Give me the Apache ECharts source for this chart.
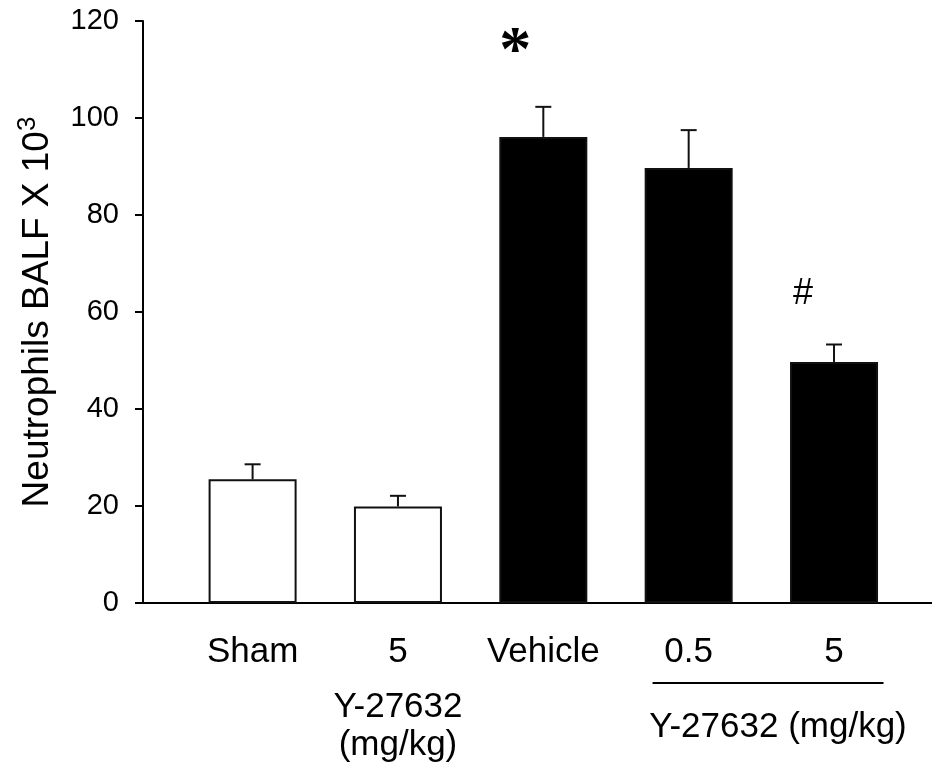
<!DOCTYPE html>
<html>
<head>
<meta charset="utf-8">
<script src="https://cdn.jsdelivr.net/npm/echarts@6/dist/echarts.min.js"></script>
<style>
  html, body { margin: 0; padding: 0; background: #fff; }
  #chart { width: 932px; height: 774px; }
</style>
</head>
<body>
<div id="chart"></div>
<script>
// Neutrophil counts in BALF (x10^3), mean with upper error bar
const categories = ['Sham', '5', 'Vehicle', '0.5', '5'];
const subLabels = ['', 'Y-27632\n(mg/kg)', '', '', ''];
const means = [25.5, 19.9, 96.1, 89.7, 49.7];
const errors = [3.1, 2.2, 6.2, 7.8, 3.6];

// significance marks: category index, symbol, height in data units
const markIndex = [2, 4];
const markText = ['*', '#'];
const markLevel = [115.8, 63.6];

// bracketed group under the last two bars
const groupLabel = 'Y-27632 (mg/kg)';
const groupSpan = [3, 4];

const yTicks = { min: 0, max: 120, step: 20 };
const yTitle = 'Neutrophils BALF X 10';
const yTitleSup = '3';

const FONT = '"Liberation Sans", Arial, Helvetica, sans-serif';
const SERIF = '"Liberation Serif", "Times New Roman", serif';

const chart = echarts.init(document.getElementById('chart'), null, { renderer: 'canvas' });

const barData = categories.map((c, i) => [i, means[i]]);
const errData = categories.map((c, i) => [i, means[i], errors[i]]);
const markData = markIndex.map((idx, k) => [idx, markLevel[k], k]);

const groupCenter = (groupSpan[0] + groupSpan[1]) / 2 + 0.046;

const xRange = { min: -0.754, max: 4.674 };

const option = {
  backgroundColor: '#ffffff',
  animation: false,
  grid: { left: 143, right: 0, top: 21, bottom: 171, outerBoundsMode: 'none', containLabel: false },
  xAxis: [
    {
      type: 'value',
      min: xRange.min,
      max: xRange.max,
      axisLine: { show: true, onZero: false, lineStyle: { color: '#000', width: 2 } },
      axisTick: { show: false },
      splitLine: { show: false },
      axisLabel: {
        customValues: categories.map((c, i) => i),
        margin: 13,
        color: '#000',
        fontFamily: FONT,
        fontSize: 35,
        formatter: (v) => {
          const i = Math.round(v);
          let s = '{main|' + categories[i] + '}';
          if (subLabels[i]) {
            s += subLabels[i].split('\n').map(t => '\n{sub|' + t + '}').join('');
          }
          return s;
        },
        rich: {
          main: { fontFamily: FONT, fontSize: 35, color: '#000', lineHeight: 72 },
          sub: { fontFamily: FONT, fontSize: 35, color: '#000', lineHeight: 38 }
        }
      }
    },
    {
      type: 'value',
      min: xRange.min,
      max: xRange.max,
      position: 'bottom',
      axisLine: { show: false },
      axisTick: { show: false },
      splitLine: { show: false },
      axisLabel: {
        customValues: [groupCenter],
        margin: 60,
        formatter: () => '{rule|}\n{txt|' + groupLabel + '}',
        rich: {
          rule: { width: 231, height: 2, backgroundColor: '#000', lineHeight: 40 },
          txt: { fontFamily: FONT, fontSize: 35, color: '#000', lineHeight: 48, padding: [0, 0, 0, 20] }
        }
      }
    }
  ],
  yAxis: {
    type: 'value',
    min: yTicks.min,
    max: yTicks.max,
    interval: yTicks.step,
    axisLine: { show: true, onZero: false, lineStyle: { color: '#000', width: 2 } },
    axisTick: { show: true, inside: false, length: 8, lineStyle: { color: '#000', width: 2 } },
    splitLine: { show: false },
    axisLabel: { color: '#000', fontFamily: FONT, fontSize: 29, margin: 24 },
    name: '{t|' + yTitle + '}{sup|' + yTitleSup + '}',
    nameLocation: 'middle',
    nameRotate: 90,
    nameGap: 82,
    nameTextStyle: {
      rich: {
        t: { fontFamily: FONT, fontSize: 37, color: '#000' },
        sup: { fontFamily: FONT, fontSize: 26, color: '#000', padding: [0, 0, 20, 0] }
      }
    }
  },
  series: [
    {
      type: 'bar',
      data: barData,
      barWidth: 88,
      itemStyle: {
        color: (p) => (p.dataIndex < 2 ? '#ffffff' : '#000000'),
        borderColor: '#111',
        borderWidth: 2
      },
      z: 2
    },
    {
      type: 'custom',
      data: errData,
      clip: false,
      z: 3,
      renderItem: (params, api) => {
        const x = api.value(0), m = api.value(1), e = api.value(2);
        const p0 = api.coord([x, m]);
        const p1 = api.coord([x, m + e]);
        const half = 8;
        const style = { stroke: '#111', lineWidth: 2 };
        return {
          type: 'group',
          children: [
            { type: 'line', shape: { x1: p0[0], y1: p0[1], x2: p1[0], y2: p1[1] }, style },
            { type: 'line', shape: { x1: p1[0] - half, y1: p1[1], x2: p1[0] + half, y2: p1[1] }, style }
          ]
        };
      }
    },
    {
      // significance symbols, placed just left of the bar centre
      type: 'custom',
      data: markData,
      clip: false,
      silent: true,
      z: 4,
      renderItem: (params, api) => {
        const p = api.coord([api.value(0), api.value(1)]);
        const k = api.value(2);
        const isStar = markText[k] === '*';
        return {
          type: 'text',
          x: p[0] - (isStar ? 28 : 31),
          y: p[1] + (isStar ? 12 : 0),
          style: {
            text: markText[k],
            fill: '#000',
            font: isStar ? ('bold 64px ' + SERIF) : ('36px ' + FONT),
            align: 'center',
            verticalAlign: 'middle'
          }
        };
      }
    }
  ]
};

chart.setOption(option);
</script>
</body>
</html>
